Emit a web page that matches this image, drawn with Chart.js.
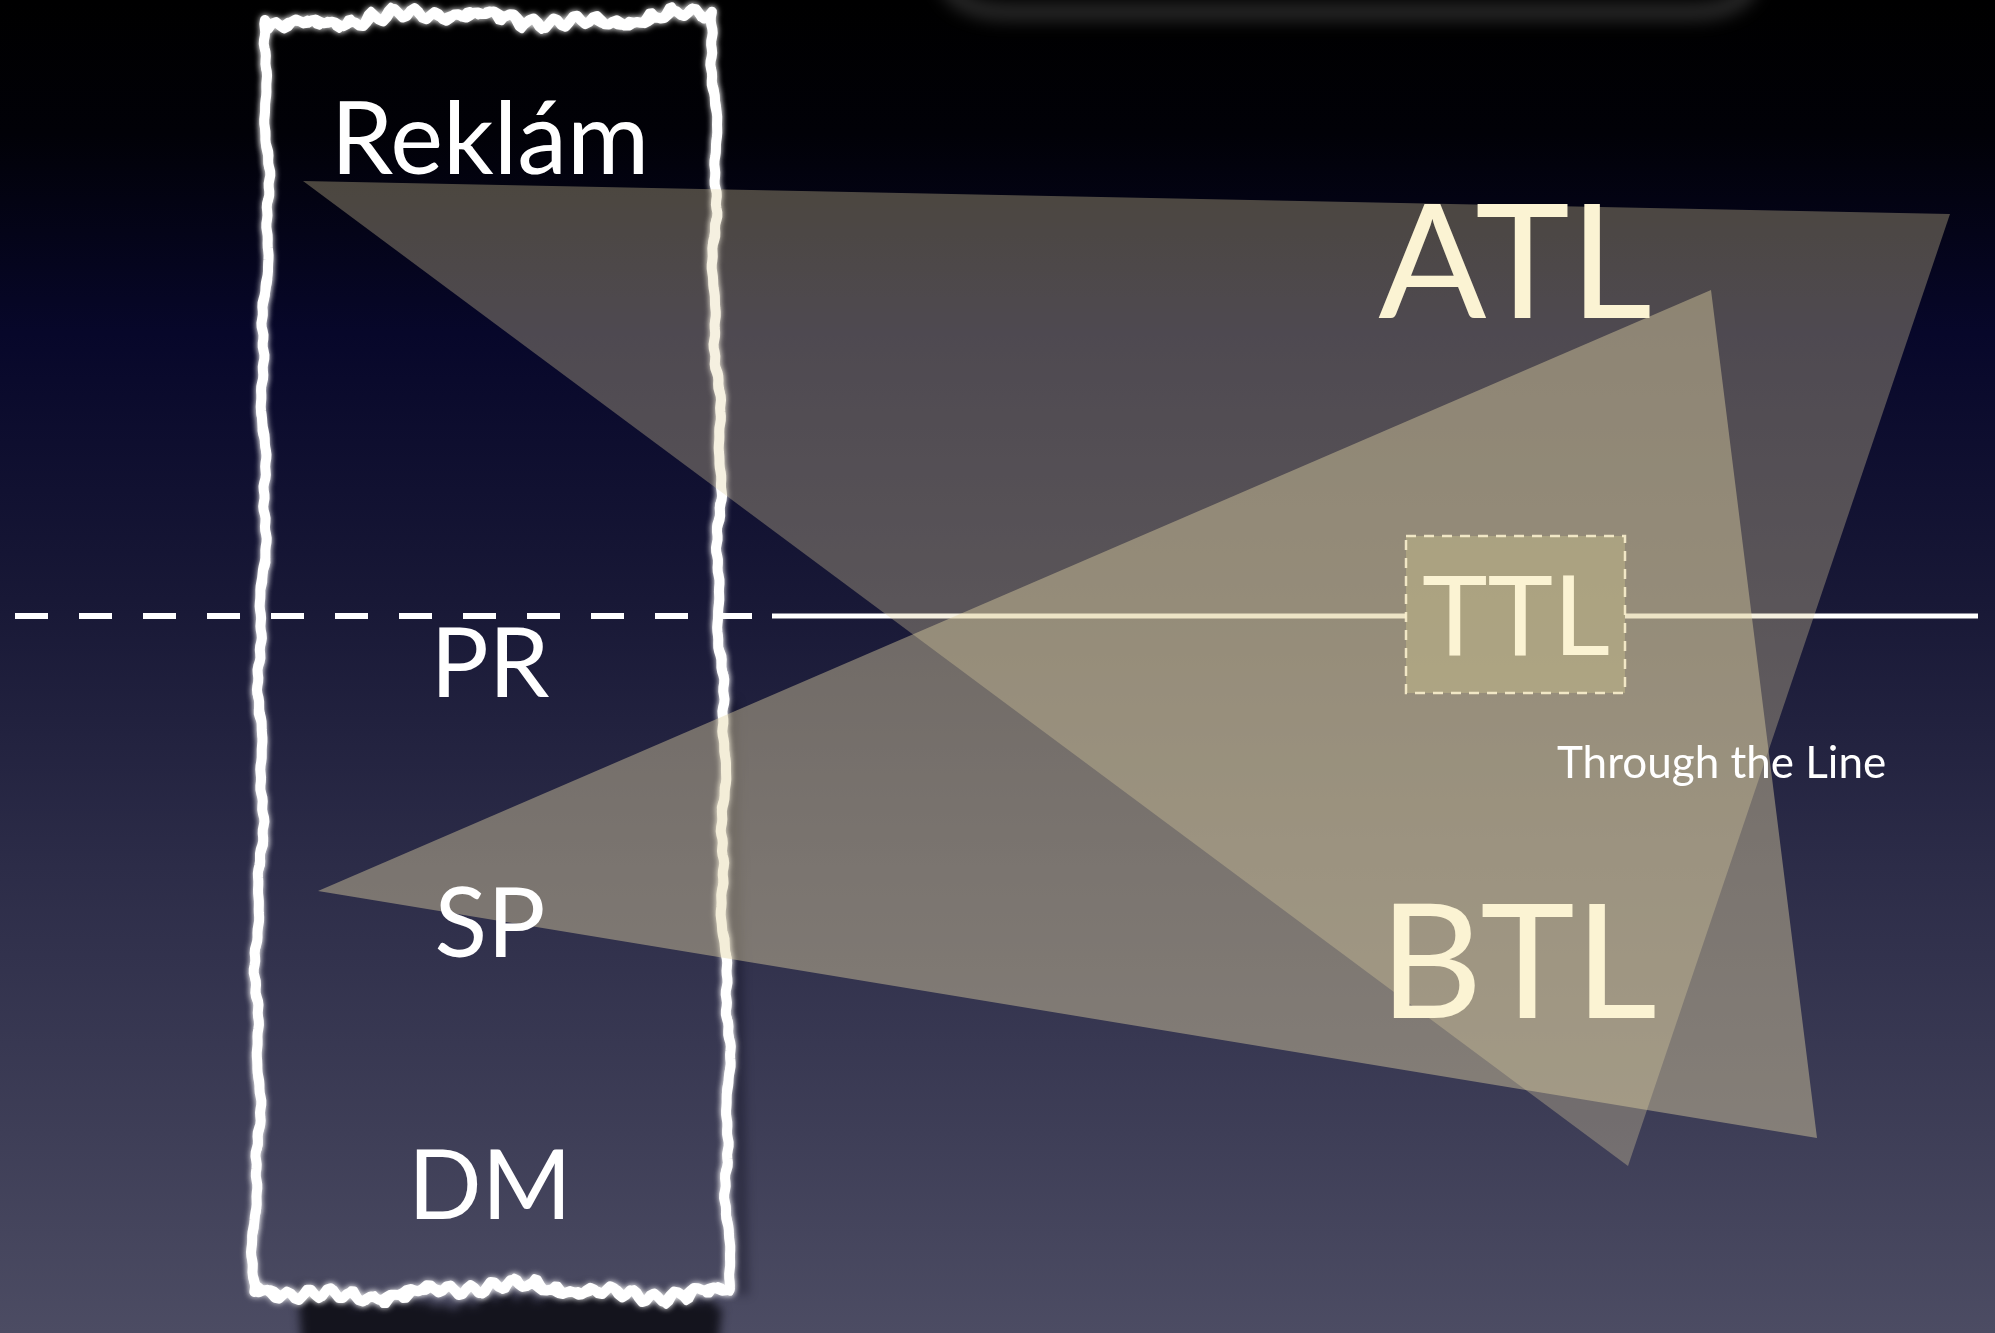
<!DOCTYPE html>
<html><head><meta charset="utf-8">
<style>html,body{margin:0;padding:0;background:#000;overflow:hidden}#wrap{width:1995px;height:1333px;position:relative}canvas{display:block}</style>
<script src="https://cdn.jsdelivr.net/npm/chart.js@4.4.0/dist/chart.umd.min.js"></script>
</head><body><div id="wrap"><canvas id="c" width="1995" height="1333"></canvas></div>
<script>
// ---- data (diagram geometry in scale units) ----
const atlX = [303, 1950, 1628];
const atlY = [181, 214, 1166];
const btlX = [318, 1711, 1817];
const btlY = [891, 290, 1138];
const guideDashX = [15, 772];
const guideSolidLeftX = [772, 1406];
const guideSolidRightX = [1625, 1978];
const guideY = [616, 616];
const ttlBoxX = [1406, 1625, 1625, 1406, 1406];
const ttlBoxY = [536, 536, 693, 693, 536];
const channels = ['Reklám', 'PR', 'SP', 'DM'];
const zones = ['ATL', 'TTL', 'BTL'];
const ttlCaption = 'Through the Line';

function poly(xs, ys, close) {
  const p = xs.map((x, i) => ({x: x, y: ys[i]}));
  if (close) p.push({x: xs[0], y: ys[0]});
  return p;
}

const bgPlugin = {
  id: 'bg',
  beforeDraw(chart) {
    const ctx = chart.ctx, W = chart.width, H = chart.height;
    const g = ctx.createLinearGradient(0, 0, 0, H);
    g.addColorStop(0, '#000000');
    g.addColorStop(0.1, '#010107');
    g.addColorStop(0.25, '#07072a');
    g.addColorStop(0.45, '#181836');
    g.addColorStop(0.65, '#2c2c48');
    g.addColorStop(0.85, '#3e3e57');
    g.addColorStop(1, '#4c4c63');
    ctx.save();
    ctx.fillStyle = g;
    ctx.fillRect(0, 0, W, H);
    // faint blurred shape at top centre
    ctx.filter = 'blur(9px)';
    ctx.strokeStyle = 'rgba(130,130,130,0.45)';
    ctx.lineWidth = 12;
    ctx.beginPath();
    ctx.moveTo(945, -20);
    ctx.quadraticCurveTo(955, 12, 1010, 12);
    ctx.lineTo(1690, 12);
    ctx.quadraticCurveTo(1745, 12, 1752, -20);
    ctx.stroke();
    ctx.filter = 'none';
    ctx.restore();
  },
  beforeDatasetsDraw(chart) {
    const ctx = chart.ctx;
    const xs = chart.scales.x, ys = chart.scales.y;
    const px = v => xs.getPixelForValue(v), py = v => ys.getPixelForValue(v);
    const corners = [[268, 20], [712, 17], [730, 1290], [255, 1292]];
    function noise(t, k, hf) {
      return 2.4 * Math.sin(t * 0.021 + k) + 1.6 * Math.sin(t * 0.067 + 2 * k) + hf * (1.0 * Math.sin(t * 0.31 + 3 * k) + 0.6 * Math.sin(t * 1.3 + k));
    }
    function edgePath(a, b, k, amp, hf) {
      const pts = [];
      const dx = b[0] - a[0], dy = b[1] - a[1];
      const len = Math.hypot(dx, dy);
      const nx = -dy / len, ny = dx / len;
      const steps = Math.ceil(len / 4);
      for (let i = 0; i <= steps; i++) {
        const t = i / steps;
        const d = noise(i * 4, k, hf) * amp;
        pts.push([a[0] + dx * t + nx * d, a[1] + dy * t + ny * d]);
      }
      return pts;
    }
    ctx.save();
    // shadow under bottom edge
    ctx.filter = 'blur(5px)';
    ctx.fillStyle = 'rgba(10,10,18,0.85)';
    ctx.beginPath();
    const bot = edgePath([298, 1298], [722, 1296], 5, 2.5, 1.5);
    ctx.moveTo(bot[0][0], bot[0][1]);
    bot.forEach(p => ctx.lineTo(p[0], p[1]));
    ctx.lineTo(718, 1345); ctx.lineTo(302, 1345); ctx.closePath();
    ctx.fill();
    // shadow right of right edge
    ctx.strokeStyle = 'rgba(0,0,12,0.3)';
    ctx.lineWidth = 12;
    ctx.beginPath();
    ctx.moveTo(731, 700); ctx.lineTo(743, 1295);
    ctx.stroke();
    ctx.filter = 'none';
    ctx.restore();

    ctx.save();
    ctx.strokeStyle = '#ffffff';
    ctx.lineJoin = 'round';
    ctx.lineCap = 'round';
    ctx.shadowColor = 'rgba(255,255,255,0.8)';
    ctx.shadowBlur = 6;
    const amps = [2.0, 1.0, 2.0, 1.0];
    const hfs = [1.6, 0.5, 1.6, 0.5];
    const widths = [10, 6];
    for (let pass = 0; pass < 2; pass++) {
      ctx.lineWidth = widths[pass];
      ctx.beginPath();
      for (let e = 0; e < 4; e++) {
        const a = corners[e], b = corners[(e + 1) % 4];
        const pts = edgePath(a, b, e + 1 + pass * 0.4, amps[e] * (pass ? 1.2 : 1), hfs[e]);
        pts.forEach((p, i) => {
          if (e === 0 && i === 0) ctx.moveTo(px(p[0]), py(p[1])); else ctx.lineTo(px(p[0]), py(p[1]));
        });
      }
      ctx.closePath();
      ctx.stroke();
    }
    ctx.restore();
  },
  afterDatasetsDraw(chart) {
    const ctx = chart.ctx;
    const xs = chart.scales.x, ys = chart.scales.y;
    const px = v => xs.getPixelForValue(v), py = v => ys.getPixelForValue(v);
    ctx.save();
    ctx.textBaseline = 'alphabetic';
    ctx.textAlign = 'center';
    ctx.fillStyle = '#ffffff';
    const chSize = [100, 97, 97, 97], chY = [174, 697, 957, 1219];
    channels.forEach((t, i) => {
      ctx.font = chSize[i] + 'px Lato';
      ctx.fillText(t, px(490), py(chY[i]));
    });
    ctx.fillStyle = '#fbf3d3';
    const zSize = [160, 111, 160], zX = [1515, 1516, 1518], zY = [318, 655, 1018];
    zones.forEach((t, i) => {
      ctx.font = zSize[i] + 'px Lato';
      ctx.fillText(t, px(zX[i]), py(zY[i]));
    });
    ctx.textAlign = 'left';
    ctx.fillStyle = '#ffffff';
    ctx.font = '44px Lato';
    ctx.fillText(ttlCaption, px(1557), py(778));
    ctx.restore();
  }
};

new Chart(document.getElementById('c'), {
  type: 'line',
  data: {
    datasets: [
      {label: 'TTL box', data: poly(ttlBoxX, ttlBoxY, false), fill: 'shape',
       backgroundColor: 'rgba(200,190,140,0.45)', borderColor: 'rgba(250,240,205,0.9)',
       borderWidth: 2.5, borderDash: [10, 8], pointRadius: 0, tension: 0, order: 1},
      {label: 'BTL', data: poly(btlX, btlY, true), fill: 'shape',
       backgroundColor: 'rgba(228,214,165,0.43)', borderWidth: 0, borderColor: 'rgba(0,0,0,0)',
       pointRadius: 0, tension: 0, order: 3},
      {label: 'ATL', data: poly(atlX, atlY, true), fill: 'shape',
       backgroundColor: 'rgba(226,208,160,0.33)', borderWidth: 0, borderColor: 'rgba(0,0,0,0)',
       pointRadius: 0, tension: 0, order: 4},
      {label: 'dashed', data: poly(guideDashX, guideY, false), fill: false,
       borderColor: '#ffffff', borderWidth: 6, borderDash: [33, 31], pointRadius: 0, order: 9},
      {label: 'solid left', data: poly(guideSolidLeftX, guideY, false), fill: false,
       borderColor: '#ffffff', borderWidth: 5, pointRadius: 0, order: 9},
      {label: 'solid right', data: poly(guideSolidRightX, guideY, false), fill: false,
       borderColor: '#ffffff', borderWidth: 5, pointRadius: 0, order: 9}
    ]
  },
  options: {
    responsive: false,
    devicePixelRatio: 1,
    animation: false,
    layout: {padding: 0},
    plugins: {legend: {display: false}, tooltip: {enabled: false}},
    scales: {
      x: {type: 'linear', min: 0, max: 1995, display: false},
      y: {type: 'linear', min: 0, max: 1333, reverse: true, display: false}
    }
  },
  plugins: [bgPlugin]
});
</script>
</body></html>
